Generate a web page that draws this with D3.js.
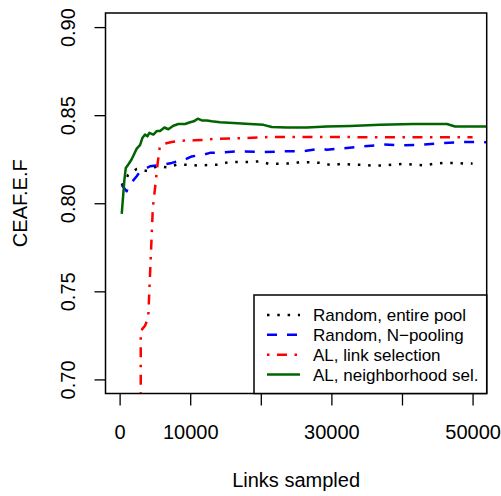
<!DOCTYPE html>
<html>
<head>
<meta charset="utf-8">
<script src="https://cdn.jsdelivr.net/npm/d3@7"></script>
<style>
  html, body { margin: 0; padding: 0; background: #fff; }
  svg { display: block; }
  text { font-family: "Liberation Sans", Arial, Helvetica, sans-serif; fill: #000; }
</style>
</head>
<body>
<svg id="chart" width="501" height="496"></svg>
<script>
// ---- Data ----
const seriesNames = ["Random, entire pool", "Random, N\u2212pooling", "AL, link selection", "AL, neighborhood sel."];

const randomPoolX = [300, 1200, 2420, 3930, 5300, 6680, 8100, 9520, 11070, 12480, 14040, 15450, 16900, 18390, 19790, 21210, 22730, 24150, 25660, 27130, 28540, 30060, 31480, 32890, 34310, 35810, 37280, 38790, 40210, 41710, 43170, 44680, 46100, 47610, 49070, 50000];
const randomPoolY = [0.810, 0.816, 0.8195, 0.8183, 0.8210, 0.8204, 0.8219, 0.8219, 0.8214, 0.8217, 0.8219, 0.8234, 0.8234, 0.8234, 0.8238, 0.8223, 0.8225, 0.8225, 0.8234, 0.8232, 0.8229, 0.8215, 0.8225, 0.8219, 0.8219, 0.8214, 0.8215, 0.8219, 0.8223, 0.8219, 0.8215, 0.8225, 0.8229, 0.8229, 0.8225, 0.8225];

const nPoolX = [300, 1000, 1230, 2420, 2890, 4310, 6190, 7380, 9270, 10220, 11860, 12810, 14700, 17060, 20370, 23200, 26030, 28400, 29350, 32190, 34540, 37370, 40210, 43040, 45880, 48710, 51550, 53000];
const nPoolY = [0.8104, 0.8068, 0.8096, 0.8153, 0.8180, 0.8210, 0.8220, 0.8229, 0.8248, 0.8266, 0.8276, 0.8286, 0.8289, 0.8295, 0.8290, 0.8295, 0.8295, 0.8310, 0.8304, 0.8314, 0.8323, 0.8333, 0.8329, 0.8333, 0.8342, 0.8348, 0.8348, 0.8340];

const alLinkX = [2990, 2990, 3600, 4050, 4700, 5000, 5400, 5700, 6100, 7380, 8800, 10500, 12000, 13500, 17500, 21300, 30000, 41000, 50000];
const alLinkY = [0.660, 0.7275, 0.7305, 0.7350, 0.7970, 0.8080, 0.8230, 0.8323, 0.8336, 0.8348, 0.8355, 0.8357, 0.8360, 0.8366, 0.8370, 0.8376, 0.8376, 0.8374, 0.8374];

const alNeighX = [300, 670, 870, 1230, 1710, 2420, 2890, 3220, 3600, 3930, 4210, 4780, 5260, 5730, 6340, 6900, 7610, 8320, 9270, 9980, 10500, 11070, 11630, 12340, 13050, 14230, 16110, 18480, 20370, 21560, 23680, 26520, 29350, 32650, 36900, 41630, 46360, 47530, 52000, 53000];
const alNeighY = [0.794, 0.813, 0.820, 0.822, 0.825, 0.831, 0.833, 0.837, 0.839, 0.838, 0.840, 0.839, 0.841, 0.841, 0.843, 0.842, 0.844, 0.845, 0.845, 0.846, 0.8465, 0.848, 0.847, 0.847, 0.8465, 0.846, 0.8455, 0.845, 0.8445, 0.8433, 0.843, 0.843, 0.8435, 0.8438, 0.8445, 0.845, 0.845, 0.8436, 0.8436, 0.8436];

const xTicks = [0, 10000, 20000, 30000, 40000, 50000];
const xTickLabels = ["0", "10000", "", "30000", "", "50000"];
const yTicks = [0.70, 0.75, 0.80, 0.85, 0.90];
const yTickLabels = ["0.70", "0.75", "0.80", "0.85", "0.90"];
const xTitle = "Links sampled";
const yTitle = "CEAF.E.F";

// ---- Layout ----
const svg = d3.select("#chart");
const plot = { left: 105.5, right: 486.7, top: 13, bottom: 393.5 };

const x = d3.scaleLinear().domain([-2000, 52000]).range([plot.left, plot.right]);
const y = d3.scaleLinear().domain([0.692, 0.908]).range([plot.bottom, plot.top]);

svg.append("defs").append("clipPath").attr("id", "clip")
  .append("rect")
  .attr("x", plot.left).attr("y", plot.top)
  .attr("width", plot.right - plot.left).attr("height", plot.bottom - plot.top);

const series = [
  { name: seriesNames[0], xs: randomPoolX, ys: randomPoolY, color: "#000000", dash: "2.5,7.8" },
  { name: seriesNames[1], xs: nPoolX, ys: nPoolY, color: "#0000FF", dash: "10,10" },
  { name: seriesNames[2], xs: alLinkX, ys: alLinkY, color: "#FF0000", dash: "2.5,7.5,10,7.5" },
  { name: seriesNames[3], xs: alNeighX, ys: alNeighY, color: "#006400", dash: null }
];

const line = d3.line().x(d => x(d[0])).y(d => y(d[1]));

const g = svg.append("g").attr("clip-path", "url(#clip)");
series.forEach(s => {
  const pts = s.xs.map((v, i) => [v, s.ys[i]]);
  g.append("path")
    .datum(pts)
    .attr("d", line)
    .attr("fill", "none")
    .attr("stroke", s.color)
    .attr("stroke-width", 2.5)
    .attr("stroke-linecap", "butt")
    .attr("stroke-linejoin", "round")
    .attr("stroke-dasharray", s.dash);
});

// Axes
const xAxis = d3.axisBottom(x).tickValues(xTicks).tickSize(12).tickPadding(0)
  .tickFormat((d, i) => xTickLabels[i]);
const xg = svg.append("g").attr("transform", `translate(0,${plot.bottom})`).call(xAxis);
xg.select(".domain").remove();
xg.selectAll(".tick line").attr("stroke", "#000").attr("stroke-width", 1.3);
xg.selectAll(".tick text").attr("font-size", 20).attr("dy", null).attr("y", 0)
  .attr("transform", `translate(0, ${439 - plot.bottom})`).style("dominant-baseline", "auto");

const yAxis = d3.axisLeft(y).tickValues(yTicks).tickSize(11).tickFormat((d, i) => yTickLabels[i]);
const yg = svg.append("g").attr("transform", `translate(${plot.left},0)`).call(yAxis);
yg.select(".domain").remove();
yg.selectAll(".tick line").attr("stroke", "#000").attr("stroke-width", 1.3);
yg.selectAll(".tick text").remove();
yg.selectAll(".tick").append("text")
  .attr("transform", `translate(${75 - plot.left},0) rotate(-90)`)
  .attr("text-anchor", "middle")
  .attr("font-size", 20)
  .text((d, i) => yTickLabels[i]);

// Plot box
svg.append("rect")
  .attr("x", plot.left).attr("y", plot.top)
  .attr("width", plot.right - plot.left).attr("height", plot.bottom - plot.top)
  .attr("fill", "none").attr("stroke", "#000").attr("stroke-width", 1.5);

// Titles
svg.append("text")
  .attr("x", (plot.left + plot.right) / 2).attr("y", 487)
  .attr("text-anchor", "middle").attr("font-size", 20).text(xTitle);
svg.append("text")
  .attr("transform", `translate(27,${(plot.top + plot.bottom) / 2}) rotate(-90)`)
  .attr("text-anchor", "middle").attr("font-size", 20).text(yTitle);

// Legend
const legend = { x0: 254, y0: 295, x1: plot.right, y1: plot.bottom };
svg.append("rect")
  .attr("x", legend.x0).attr("y", legend.y0)
  .attr("width", legend.x1 - legend.x0).attr("height", legend.y1 - legend.y0)
  .attr("fill", "#fff").attr("stroke", "#000").attr("stroke-width", 1.5);
const rowY = d3.scaleLinear().domain([0, 3]).range([315, 374.5]);
series.forEach((s, i) => {
  const yy = rowY(i);
  svg.append("line")
    .attr("x1", 267).attr("x2", 300).attr("y1", yy).attr("y2", yy)
    .attr("stroke", s.color).attr("stroke-width", 2.5)
    .attr("stroke-dasharray", s.dash);
  svg.append("text")
    .attr("x", 313).attr("y", yy + 6)
    .attr("font-size", 17).text(s.name);
});
</script>
</body>
</html>
